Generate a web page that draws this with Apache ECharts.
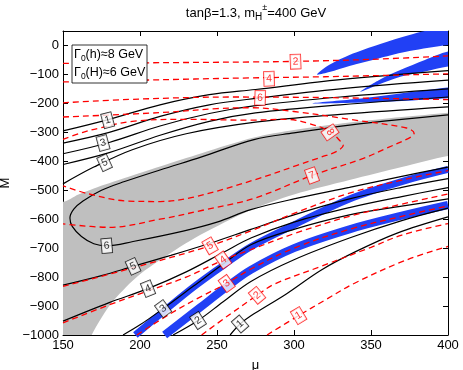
<!DOCTYPE html>
<html><head><meta charset="utf-8">
<script src="https://cdn.jsdelivr.net/npm/echarts@6/dist/echarts.min.js"></script>
<style>html,body{margin:0;padding:0;background:#fff}#c{width:463px;height:370px}</style>
</head><body><div id="c"></div>
<script>
// ---- axis ticks ----
const muTicks = [150, 200, 250, 300, 350, 400];
const mTicks = [0, -100, -200, -300, -400, -500, -600, -700, -800, -900, -1000];

// ---- shaded regions ----
const grayUpper = [[150,-540],[160,-515],[170,-494],[190,-458],[213,-418],[240,-372],[274,-318],[300,-292],[336,-266],[370,-247],[400,-232]];
const grayLower = [[400,-382],[370,-420],[336,-465],[300,-515],[272,-568],[239,-655],[213,-741],[200,-790],[191,-834],[180,-900],[168.6,-1000]];
const blueWedge1 = [[315,-100],[323,-67],[336,-33],[356,5],[375,36],[385,50],[410,55],[410,2],[400,2],[375,-19],[356,-43],[336,-71],[323,-92]];
const blueWedge2 = [[343,-160],[355,-120],[369,-85],[385,-50],[400,-21],[410,-21],[410,-73],[400,-73],[385,-90],[369,-108],[355,-135]];
const blueWedge3 = [[312,-200],[340,-185],[370,-165],[400,-145],[410,-145],[410,-182],[400,-182],[370,-192],[340,-198]];
const blueBandA = [[197,-1000],[215,-920],[234.6,-835],[254,-760],[272,-695],[300,-620],[336,-530],[370,-470],[400,-428]];
const blueBandB = [[216,-1000],[239,-905],[256,-835],[272,-775],[300,-700],[336,-635],[370,-588],[400,-551]];

// ---- black solid contours ----
const blackTop1 = [[150,-295],[180,-255],[213,-205],[245,-170],[275,-152],[330,-118],[400,-87]];
const blackTop2 = [[150,-337],[180,-300],[213,-245],[245,-205],[275,-183],[330,-150],[400,-120]];
const blackTop3 = [[150,-374],[180,-335],[213,-278],[245,-235],[275,-208],[330,-178],[400,-150]];
const blackTop4 = [[150,-411],[180,-370],[213,-310],[245,-262],[275,-233],[330,-205],[400,-178]];
const blackTop5 = [[150,-478],[170,-420],[195,-360],[230,-305],[275,-265],[330,-238],[400,-212]];
const black6 = [[400,-240],[370,-255],[336,-275],[300,-302],[274,-325],[240,-385],[213,-430],[190,-470],[175,-500],[163,-537],[157,-565],[154.5,-596],[156,-625],[162,-660],[170,-685],[178.4,-692],[195.5,-677],[228,-641],[250,-610],[272,-567],[300,-530],[336,-490],[370,-452],[400,-420]];
const black5 = [[150,-828],[175,-795],[195.5,-763],[220,-725],[245.5,-683],[272,-635],[300,-585],[336,-530],[370,-490],[400,-460]];
const black4 = [[150,-952],[180,-888],[205.2,-840],[230,-782],[254,-715],[272,-665],[300,-610],[336,-560],[370,-522],[400,-491]];
const black3 = [[189,-1000],[200,-965],[215,-909],[235,-830],[254,-755],[272,-688],[300,-635],[336,-585],[370,-555],[400,-530]];
const black2 = [[221.5,-1000],[237.7,-950],[254,-885],[272,-815],[300,-740],[336,-665],[370,-605],[400,-562]];
const black1 = [[258.5,-1000],[265,-962],[274,-927],[295,-858],[317.5,-776],[340,-712],[367,-648],[400,-592]];

// ---- red dashed contours ----
const redTop2 = [[150,-62],[200,-60],[271,-57],[300,-55],[350,-48],[400,-36]];
const redTop4 = [[150,-126],[200,-120],[271,-112],[320,-108],[400,-98]];
const redTop6 = [[150,-198],[200,-185],[260,-178],[320,-180],[400,-187]];
const red7 = [[150,-247],[213,-232],[250,-218],[272,-215],[300,-228],[336,-255],[373,-285],[378,-303],[376,-316],[360,-355],[345,-390],[311.7,-449],[274,-528],[240,-570],[213,-600],[180,-628],[150,-616]];
const red8 = [[150,-324],[163,-300],[174,-285],[195,-262],[230,-255],[271,-258],[295,-255],[310,-270],[323,-296],[330,-330],[332,-345],[328,-365],[318,-385],[302,-414],[275,-463],[234,-525],[213,-539],[191,-537],[167,-513],[150,-485]];
const red5 = [[150,-832],[195.5,-768],[245.5,-692],[272,-640],[300,-580],[336,-510],[370,-465],[400,-432]];
const red4 = [[150,-958],[180,-896],[205,-848],[230,-800],[254,-741],[272,-705],[300,-650],[336,-590],[370,-548],[400,-513]];
const red3 = [[198,-1000],[219.5,-927],[239,-869],[256.3,-822],[272,-772],[300,-700],[336,-635],[370,-590],[400,-554]];
const red2 = [[240,-1000],[258,-930],[276,-863],[287,-825],[317,-764],[350,-697],[370,-655],[400,-615]];
const red1 = [[282.5,-1000],[303,-933],[320,-880],[339,-822],[371,-745],[400,-694]];

// ---- contour labels [mu, M, text] ----
const blackLabels = [[179,-258,'1'],[176,-337,'3'],[177,-405,'5'],[178.4,-692,'6'],[195.5,-763,'5'],[205.2,-840,'4'],[215,-909,'3'],[237.7,-950,'2'],[265,-962,'1']];
const redLabels = [[301,-56,'2'],[283.8,-115,'4'],[278,-181,'6'],[323.4,-300,'8'],[311.7,-449,'7'],[245.5,-692,'5'],[254,-741,'4'],[256.3,-822,'3'],[276,-863,'2'],[303,-933,'1']];
// label rotations (style)
const blackRot = [15,15,25,5,25,22,36,33,41];
const redRot = [2,2,-2,-55,20,30,35,36,40,31];

const F = 'Liberation Sans, Arial, Helvetica, sans-serif';
const BLUE = '#2140f5';
const GRAY = '#bfbfbf';

function poly(points, color, z) {
  return {
    type: 'custom', coordinateSystem: 'cartesian2d', clip: true, z: z, silent: true,
    data: [[points[0][0], points[0][1]]],
    renderItem: function (params, api) {
      return { type: 'polygon', shape: { points: points.map(p => api.coord(p)), smooth: 0.3 }, style: { fill: color } };
    }
  };
}
function line(data, color, width, dashed, z) {
  return {
    type: 'line', data: data, smooth: 0.35, symbol: 'none', z: z, silent: true,
    lineStyle: { color: color, width: width, type: dashed ? [6, 4] : 'solid', cap: 'butt' }
  };
}
function labels(arr, rots, color, z) {
  return {
    type: 'scatter', z: z, symbolSize: 1, itemStyle: { color: 'rgba(0,0,0,0)' }, silent: true,
    data: arr.map((d, i) => ({
      value: [d[0], d[1]], name: d[2],
      label: { rotate: rots[i] }
    })),
    label: {
      show: true, position: 'inside', formatter: p => p.name, color: color,
      fontFamily: F, fontSize: 10.5, backgroundColor: '#fff', borderColor: color, borderWidth: 0.8,
      padding: [2, 2, 1, 2], lineHeight: 11
    }
  };
}

const grayPoly = grayUpper.concat([[415,-225],[415,-375]], grayLower, [[166,-1040],[130,-1040],[130,-530]]);

const series = [
  poly(grayPoly, GRAY, 1),
  poly(blueWedge1, BLUE, 2),
  poly(blueWedge2, BLUE, 2),
  poly(blueWedge3, BLUE, 2),
  line(blueBandA, BLUE, 7, false, 2),
  line(blueBandB, BLUE, 8, false, 2),
];
[blackTop1, blackTop2, blackTop3, blackTop4, blackTop5, black6, black5, black4, black3, black2, black1]
  .forEach(d => series.push(line(d, '#000', 1.2, false, 3)));
[redTop2, redTop4, redTop6, red7, red8, red5, red4, red3, red2, red1]
  .forEach(d => series.push(line(d, '#ff0000', 1.3, true, 4)));
series.push(labels(blackLabels, blackRot, '#000', 5));
series.push(labels(redLabels, redRot, '#ff0000', 5));

const fmt = v => v < 0 ? '\u2212' + Math.abs(v) : String(v);
const axisCommon = {
  axisLine: { show: true, onZero: false, lineStyle: { color: '#000', width: 1 } },
  axisTick: { show: true, inside: true, length: 5, lineStyle: { color: '#000' } },
  splitLine: { show: false }
};

const chart = echarts.init(document.getElementById('c'), null, { renderer: 'canvas' });
chart.setOption({
  animation: false,
  backgroundColor: '#fff',
  grid: { left: 63, right: 15, top: 31, bottom: 35, containLabel: false, outerBoundsMode: 'none' },
  xAxis: [
    Object.assign({ type: 'value', min: muTicks[0], max: muTicks[muTicks.length - 1], interval: 50, position: 'bottom',
      name: 'μ', nameLocation: 'middle', nameGap: 24, nameTextStyle: { fontFamily: F, fontSize: 13, color: '#000' },
      axisLabel: { fontFamily: F, fontSize: 13, color: '#000', margin: 4 } }, axisCommon),
    Object.assign({ type: 'value', min: muTicks[0], max: muTicks[muTicks.length - 1], interval: 50, position: 'top',
      axisLabel: { show: false } }, axisCommon)
  ],
  yAxis: [
    Object.assign({ type: 'value', min: mTicks[mTicks.length - 1], max: 50, interval: 100, position: 'left',
      name: 'M', nameLocation: 'middle', nameGap: 46, nameTextStyle: { fontFamily: F, fontSize: 13, color: '#000' },
      axisLabel: { fontFamily: F, fontSize: 13, color: '#000', margin: 4, formatter: fmt, showMaxLabel: false } }, axisCommon),
    Object.assign({ type: 'value', min: mTicks[mTicks.length - 1], max: 50, interval: 100, position: 'right',
      axisLabel: { show: false } }, axisCommon)
  ],
  graphic: [
    { type: 'text', x: 256, y: 13, z: 10, style: {
      text: '{a|tanβ=1.3, m}{b|H}{c|±}{a|=400 GeV}', align: 'center', verticalAlign: 'middle',
      rich: { a: { fontFamily: F, fontSize: 13, lineHeight: 19, fill: '#000' },
              b: { fontFamily: F, fontSize: 10, verticalAlign: 'bottom', fill: '#000' },
              c: { fontFamily: F, fontSize: 9, verticalAlign: 'top', fill: '#000' } } } },
    { type: 'rect', z: 10, shape: { x: 72, y: 45, width: 75, height: 38 }, style: { fill: '#fff', stroke: '#000', lineWidth: 0.8 } },
    { type: 'text', z: 11, x: 74, y: 55, style: {
      text: '{a|Γ}{s|0}{a|(h)≈8 GeV}', verticalAlign: 'middle',
      rich: { a: { fontFamily: F, fontSize: 12.5, lineHeight: 16, fill: '#000' }, s: { fontFamily: F, fontSize: 8.5, verticalAlign: 'bottom', fill: '#000' } } } },
    { type: 'text', z: 11, x: 74, y: 73, style: {
      text: '{a|Γ}{s|0}{a|(H)≈6 GeV}', verticalAlign: 'middle',
      rich: { a: { fontFamily: F, fontSize: 12.5, lineHeight: 16, fill: '#000' }, s: { fontFamily: F, fontSize: 8.5, verticalAlign: 'bottom', fill: '#000' } } } }
  ],
  series: series
});
</script>
</body></html>
